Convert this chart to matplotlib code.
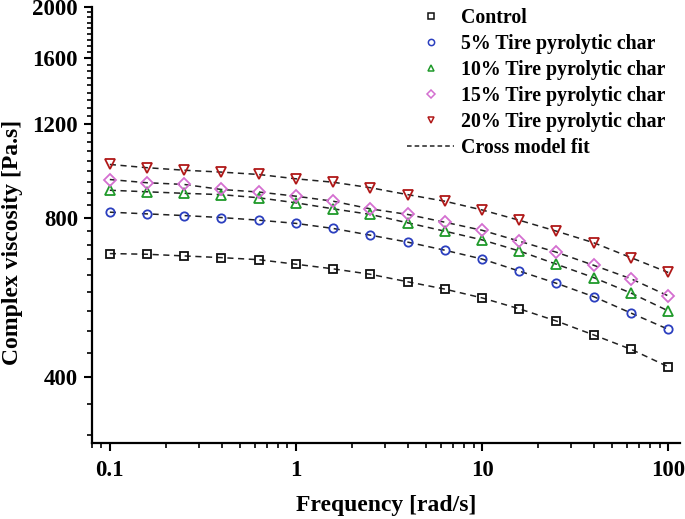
import numpy as np
import matplotlib
matplotlib.use("Agg")
import matplotlib.pyplot as plt
from matplotlib.ticker import FixedLocator, NullFormatter, LogLocator

plt.rcParams['font.family'] = ['Liberation Serif', 'DejaVu Serif']
plt.rcParams['font.weight'] = 'bold'

freq = [0.1, 0.158, 0.251, 0.398, 0.631, 1.0, 1.585, 2.51, 3.98, 6.31,
        10.0, 15.8, 25.1, 39.8, 63.1, 100.0]

control = [684, 682, 677, 672, 666, 653, 640, 625, 605, 586, 564, 538, 510, 480, 451, 418]
tpc5 = [819, 813, 807, 800, 791, 780, 763, 741, 719, 694, 668, 634, 601, 567, 528, 492]
tpc10 = [901, 895, 889, 884, 872, 853, 831, 811, 782, 754, 726, 692, 653, 616, 576, 533]
tpc15 = [944, 931, 924, 904, 894, 878, 859, 831, 811, 784, 757, 722, 688, 650, 613, 569]
tpc20 = [1008, 994, 983, 975, 965, 947, 933, 911, 884, 859, 827, 791, 754, 717, 672, 630]

labels = ["Control", "5% Tire pyrolytic char", "10% Tire pyrolytic char",
          "15% Tire pyrolytic char", "20% Tire pyrolytic char"]
fit_label = "Cross model fit"

y_major = [400, 800, 1200, 1600, 2000]
x_ticks = [0.1, 1, 10, 100]
x_ticklabels = ["0.1", "1", "10", "100"]

series = [control, tpc5, tpc10, tpc15, tpc20]
markers = ['s', 'o', '^', 'D', 'v']
colors = ['#111111', '#2b3fbf', '#1f9a2a', '#d46fd0', '#b01818']
msizes = [5.5, 6, 7, 6, 7]

fig = plt.figure(figsize=(6.85, 5.19), dpi=100)
ax = fig.add_axes([0.134, 0.1465, 0.859, 0.84])

for vals in series:
    ax.plot(freq, vals, linestyle=(0, (4, 3)), color='#222222', lw=1.1, zorder=2)

handles = []
for vals, m, c, ms, lab in zip(series, markers, colors, msizes, labels):
    ax.plot(freq, vals, linestyle='none', marker=m, markersize=ms,
            markerfacecolor='none', markeredgecolor=c, markeredgewidth=1.3, zorder=3)
    h, = ax.plot([], [], linestyle='none', marker=m, markersize=4.5,
                 markerfacecolor='none', markeredgecolor=c, markeredgewidth=1.1, label=lab)
    handles.append(h)
hf, = ax.plot([], [], linestyle=(0, (3, 2)), color='#222222', lw=1.1, label=fit_label)
handles.append(hf)

ax.set_xscale('log')
ax.set_yscale('log')
ax.set_xlim(0.08, 116)
ax.set_ylim(300, 2000)

ax.yaxis.set_major_locator(FixedLocator(y_major))
ax.set_yticklabels([str(v) for v in y_major])
ax.yaxis.set_minor_locator(FixedLocator(list(np.arange(311.11, 2000, 400 / 9))))
ax.yaxis.set_minor_formatter(NullFormatter())

ax.xaxis.set_major_locator(FixedLocator(x_ticks))
ax.set_xticklabels(x_ticklabels)
ax.xaxis.set_minor_locator(LogLocator(base=10, subs=np.arange(2, 10)))
ax.xaxis.set_minor_formatter(NullFormatter())

for s in ['top', 'right']:
    ax.spines[s].set_visible(False)
for s in ['left', 'bottom']:
    ax.spines[s].set_linewidth(1.6)

ax.tick_params(which='major', direction='out', length=6, width=1.5, labelsize=16.5, pad=4)
ax.tick_params(axis='x', which='major', pad=6)
ax.tick_params(which='minor', direction='out', length=3.5, width=1.2)
for lab in ax.get_xticklabels() + ax.get_yticklabels():
    lab.set_fontweight('bold')

ax.set_xlabel("Frequency [rad/s]", fontsize=17, fontweight='bold')
ax.set_ylabel("Complex viscosity [Pa.s]", fontsize=17, fontweight='bold')
ax.xaxis.set_label_coords(0.5, -0.12)
ax.yaxis.set_label_coords(-0.117, 0.46)

leg = ax.legend(handles=handles, loc='upper right', bbox_to_anchor=(0.995, 1.025),
                frameon=False, fontsize=14.3, handlelength=2.36, handletextpad=0.35,
                labelspacing=0.3, borderaxespad=0.2)
for t in leg.get_texts():
    t.set_fontweight('bold')

fig.savefig("out.png", dpi=100)
